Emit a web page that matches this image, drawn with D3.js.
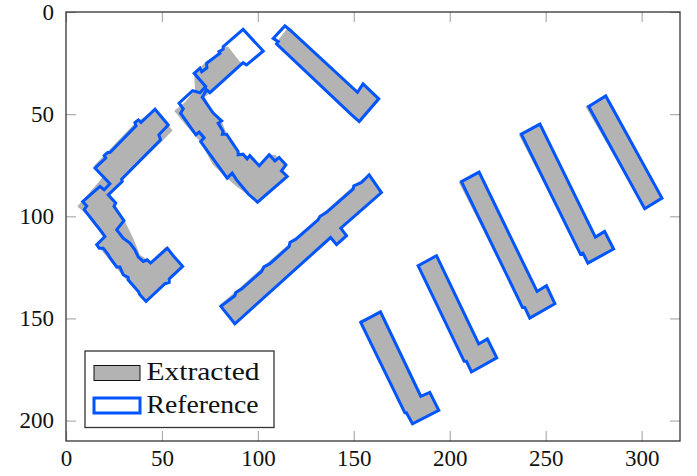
<!DOCTYPE html>
<html><head><meta charset="utf-8">
<script src="https://cdn.jsdelivr.net/npm/d3@7"></script>
<style>html,body{margin:0;padding:0;background:#fff}svg{display:block}text{font-family:"Liberation Serif",serif;fill:#111}</style>
</head><body><svg id="c" width="697" height="476"></svg>
<script>
const xTicks=[0,50,100,150,200,250,300];
const yTicks=[0,50,100,150,200];
const legendLabels=["Extracted","Reference"];
const extractedA=[[46.4,47.7],[55.6,58.0],[49.3,63.9],[29.2,82.2],[22.0,89.0],[25.5,94.4],[30.7,102.5],[34.9,110.5],[38.5,118.8],[42.3,121.3],[44.1,122.2],[52.1,114.8],[60.8,124.5],[41.7,141.3],[35.9,135.1],[29.8,129.4],[16.0,113.9],[20.3,109.9],[9.9,98.4],[5.9,95.2],[16.7,83.6],[19.1,80.8],[14.6,75.3],[35.9,54.4]];
const extractedB=[[81.9,17.0],[84.5,17.0],[90.6,24.3],[92.3,25.4],[75.0,39.6],[72.4,41.6],[76.6,49.4],[81.3,53.8],[83.7,59.7],[89.6,68.5],[95.8,70.9],[100.7,75.3],[105.9,69.9],[108.9,69.9],[110.9,71.4],[114.6,74.8],[112.5,77.8],[115.1,80.7],[99.8,92.9],[89.1,85.6],[82.8,80.5],[76.6,74.8],[69.8,63.4],[60.9,53.6],[56.4,48.4],[62.0,44.2],[67.2,38.1],[66.8,30.0],[69.8,27.4],[72.9,24.4],[80.2,20.0]];
const extractedC=[[114.9,8.5],[116.7,8.0],[151.9,39.3],[154.8,35.2],[163.0,42.5],[152.8,53.6],[146.9,48.9],[110.3,16.1],[110.6,13.7]];
const extractedD=[[158.0,79.7],[164.4,88.4],[143.2,105.8],[146.2,109.5],[141.0,113.9],[137.9,110.4],[88.0,152.6],[80.2,143.3],[88.9,136.3],[116.7,113.1],[134.0,98.4],[151.4,83.8]];
const extractedE=[[153.1,151.0],[163.9,146.8],[184.9,188.1],[189.6,186.2],[194.3,195.0],[180.6,201.6],[177.4,196.2],[176.6,196.2]];
const extractedF=[[182.7,123.9],[193.1,119.3],[215.1,162.5],[219.6,160.0],[224.5,169.3],[211.3,176.2],[208.7,171.0],[207.5,171.0]];
const extractedG=[[204.7,83.3],[214.7,77.8],[245.5,136.8],[250.4,134.0],[254.8,142.8],[241.7,149.8],[239.1,144.6],[237.9,144.6]];
const extractedH=[[236.0,60.1],[246.9,54.4],[275.9,110.2],[280.7,107.4],[285.4,116.0],[272.0,122.9],[269.4,118.0],[268.1,118.5]];
const extractedI=[[270.7,46.3],[281.3,41.1],[310.9,90.6],[301.6,96.3]];
const referenceA=[[46.4,47.6],[53.3,55.3],[48.4,60.1],[49.3,62.6],[29.0,81.8],[29.3,83.0],[22.0,89.5],[25.9,93.5],[25.0,95.2],[30.2,102.1],[26.4,106.6],[29.8,110.7],[33.3,113.1],[35.9,116.4],[37.7,120.0],[40.3,122.1],[42.3,121.3],[44.1,122.9],[52.8,115.6],[55.9,119.3],[60.8,124.5],[53.8,130.7],[53.8,132.4],[51.6,133.0],[41.7,141.7],[38.5,138.4],[37.7,136.8],[32.4,131.1],[32.4,129.9],[29.8,128.6],[28.1,124.8],[26.4,124.8],[22.9,120.3],[22.0,118.8],[19.4,115.6],[17.3,115.6],[16.0,113.9],[20.3,109.9],[17.7,106.6],[9.5,96.8],[10.8,94.9],[8.7,92.8],[17.7,85.4],[19.9,87.0],[22.9,84.1],[15.1,76.4],[20.7,71.5],[19.9,70.3],[21.7,68.8],[22.9,68.8],[36.5,55.7],[35.9,54.1],[37.7,52.8],[39.1,54.1]];
const referenceB=[[92.3,8.5],[102.8,19.1],[94.1,25.9],[92.3,24.8],[75.0,39.5],[73.3,38.1],[71.0,41.7],[76.7,49.5],[81.1,53.3],[79.3,54.4],[81.9,58.5],[81.5,59.8],[83.7,59.8],[89.7,68.3],[89.7,69.9],[92.3,69.6],[94.4,71.9],[95.8,70.3],[100.7,75.3],[105.9,69.9],[108.9,72.9],[111.1,71.2],[114.6,74.8],[112.3,77.8],[115.3,80.5],[99.8,93.1],[95.0,89.1],[88.9,82.2],[86.6,78.9],[84.0,81.3],[70.2,63.4],[72.0,61.5],[69.4,58.8],[67.7,60.1],[59.7,49.5],[61.1,47.4],[58.9,44.6],[66.0,38.5],[69.8,39.5],[72.8,36.5],[66.8,30.0],[69.8,27.5],[70.7,29.2],[73.4,27.4],[73.3,25.1],[80.2,20.2],[79.7,19.4],[81.9,18.2],[81.9,17.0]];
const referenceC=[[114.1,6.8],[116.7,8.8],[151.9,39.3],[154.8,35.2],[163.0,42.5],[152.8,53.6],[147.9,49.5],[109.7,15.6],[110.6,14.5],[108.0,12.9]];
const referenceD=[[158.0,79.7],[164.4,88.4],[143.2,105.8],[146.2,109.5],[141.0,113.9],[137.9,110.4],[88.0,152.6],[80.7,144.1],[88.0,138.9],[88.5,137.3],[91.5,135.6],[101.9,127.0],[103.1,124.8],[106.3,123.2],[116.3,114.8],[116.7,112.8],[119.8,111.2],[131.4,101.7],[132.3,100.1],[135.8,98.1],[149.6,86.7],[150.0,85.1],[154.0,83.5]];
const referenceE=[[153.6,151.9],[163.9,146.8],[184.9,188.1],[189.6,186.2],[194.3,195.0],[180.6,201.6],[177.4,196.2],[176.6,196.2]];
const referenceF=[[183.5,124.2],[193.1,119.3],[215.1,162.5],[219.6,160.0],[224.5,169.3],[211.3,176.2],[208.7,171.0],[207.5,171.0]];
const referenceG=[[206.1,83.0],[215.3,78.4],[245.5,136.8],[250.4,134.0],[254.8,142.8],[241.7,149.8],[239.1,144.6],[237.9,144.6]];
const referenceH=[[237.3,59.8],[247.0,54.9],[275.9,110.2],[280.7,107.4],[285.4,116.0],[272.0,122.9],[269.4,118.0],[268.1,118.5]];
const referenceI=[[272.4,46.3],[281.3,41.1],[310.6,91.1],[301.6,96.3]];
const extracted=[extractedA,extractedB,extractedC,extractedD,extractedE,extractedF,extractedG,extractedH,extractedI];
const reference=[referenceA,referenceB,referenceC,referenceD,referenceE,referenceF,referenceG,referenceH,referenceI];

const L=66,R=680,T=12,B=441;
const x=d3.scaleLinear().domain([0,320]).range([L,R]);
const y=d3.scaleLinear().domain([0,210]).range([T,B]);
const svg=d3.select("#c");
const line=d3.line().x(d=>x(d[0])).y(d=>y(d[1])).curve(d3.curveLinearClosed);
const GRAY="#b3b3b3",BLUE="#0055ff",TICK="#adadad",FRAME="#333";

svg.append("g").selectAll("path").data(extracted).join("path").attr("d",line).attr("fill",GRAY);
svg.append("g").selectAll("path").data(reference).join("path").attr("d",line).attr("fill","none").attr("stroke",BLUE).attr("stroke-width",3).attr("stroke-linejoin","miter");

function styleAxis(g){g.select(".domain").remove();g.selectAll(".tick line").attr("stroke",TICK).attr("stroke-width",1.2);g.selectAll(".tick text").attr("font-size",23).attr("font-family","Liberation Serif").attr("fill","#111");}
const tl=-10;
svg.append("g").attr("transform",`translate(0,${B})`).call(d3.axisBottom(x).tickValues(xTicks).tickSize(tl).tickPadding(9)).call(styleAxis);
svg.append("g").attr("transform",`translate(0,${T})`).call(d3.axisTop(x).tickValues(xTicks).tickSize(tl).tickFormat("")).call(styleAxis);
svg.append("g").attr("transform",`translate(${L},0)`).call(d3.axisLeft(y).tickValues(yTicks).tickSize(tl).tickPadding(12)).call(styleAxis);
svg.append("g").attr("transform",`translate(${R},0)`).call(d3.axisRight(y).tickValues(yTicks).tickSize(tl).tickFormat("")).call(styleAxis);
svg.append("rect").attr("x",L).attr("y",T).attr("width",R-L).attr("height",B-T).attr("fill","none").attr("stroke",FRAME).attr("stroke-width",1.3);

const lg=svg.append("g");
lg.append("rect").attr("x",85).attr("y",351).attr("width",189).attr("height",76.5).attr("fill","#fff").attr("stroke",FRAME).attr("stroke-width",1.3);
lg.append("rect").attr("x",94).attr("y",365.5).attr("width",46).attr("height",15).attr("fill",GRAY).attr("stroke","#111").attr("stroke-width",1);
lg.append("rect").attr("x",94).attr("y",398).attr("width",46).attr("height",15).attr("fill","#fff").attr("stroke",BLUE).attr("stroke-width",3);
lg.selectAll("text").data(legendLabels).join("text").attr("x",146.5).attr("y",(d,i)=>380+i*33).attr("font-size",26).attr("textLength",(d,i)=>i?112:113).attr("lengthAdjust","spacingAndGlyphs").text(d=>d);
</script></body></html>
